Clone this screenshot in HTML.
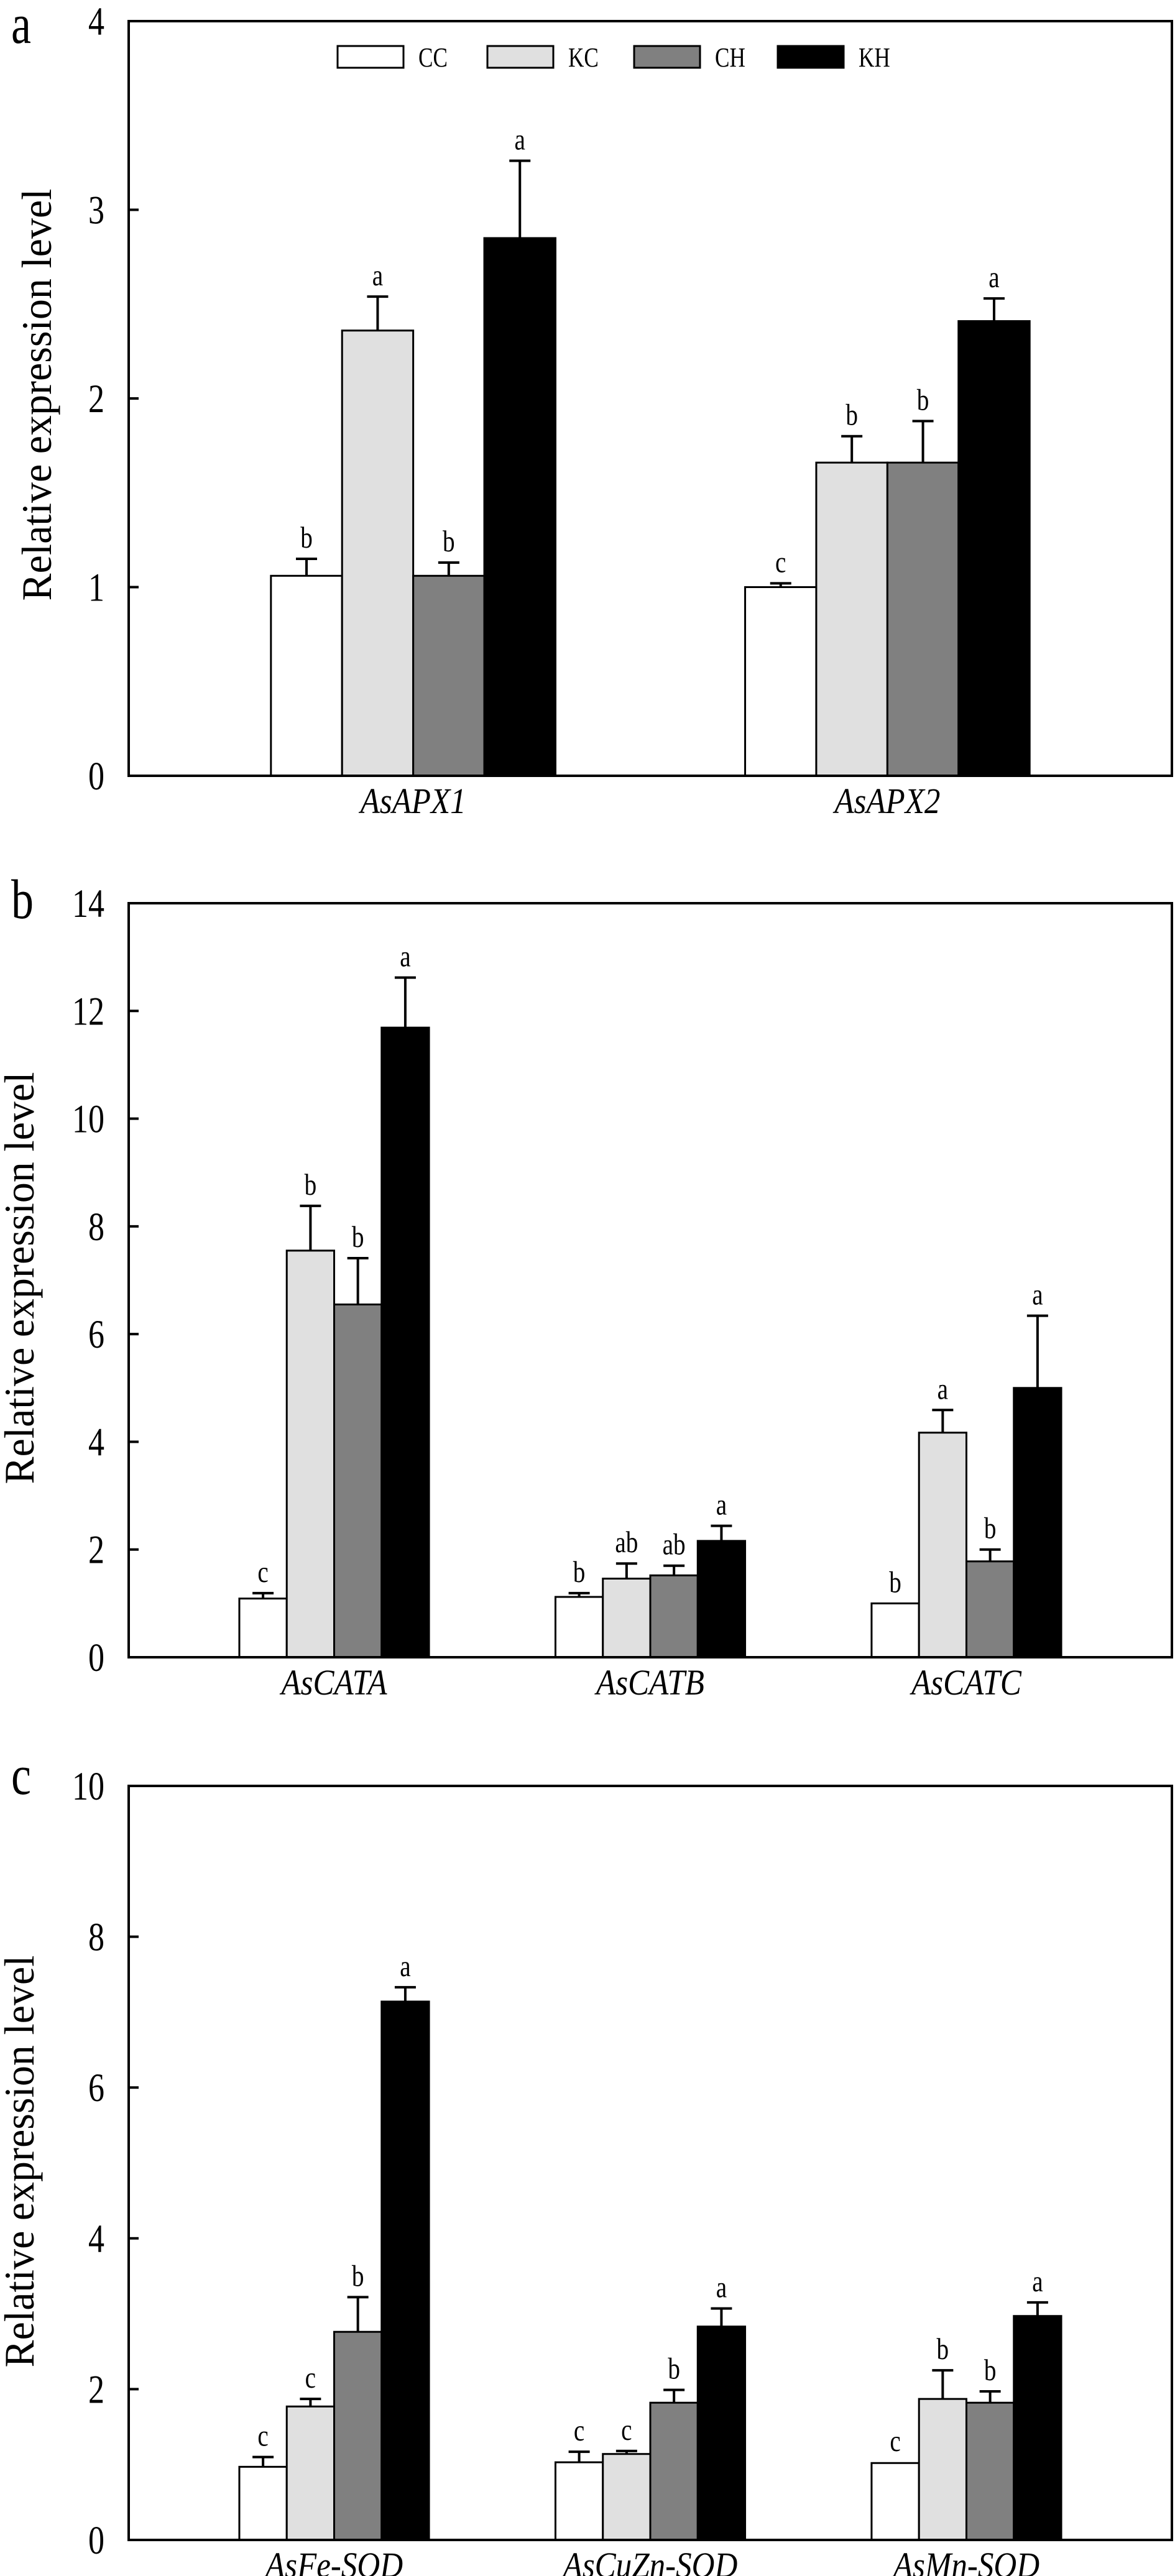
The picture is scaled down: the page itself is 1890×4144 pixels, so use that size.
<!DOCTYPE html>
<html><head><meta charset="utf-8"><style>
html,body{margin:0;padding:0;background:#fff;}
svg{display:block;}
svg text{font-family:"Liberation Serif","Times New Roman","DejaVu Serif",serif;fill:#000;}
</style></head>
<body>
<svg id="fig" width="1890" height="4144" viewBox="0 0 1890 4144" xmlns="http://www.w3.org/2000/svg"></svg>
<script>
// Panel a data
const catsA = ["AsAPX1","AsAPX2"];
const ccA = [1.06, 1.00];
const kcA = [2.36, 1.66];
const chA = [1.06, 1.66];
const khA = [2.85, 2.41];
const ccErrA = [0.09, 0.02];
const kcErrA = [0.18, 0.14];
const chErrA = [0.07, 0.22];
const khErrA = [0.41, 0.12];
const lettersA = [["b","a","b","a"],["c","b","b","a"]];
const ticksA = [0,1,2,3,4];
// Panel b data
const catsB = ["AsCATA","AsCATB","AsCATC"];
const ccB = [1.09, 1.12, 1.00];
const kcB = [7.55, 1.46, 4.17];
const chB = [6.55, 1.52, 1.78];
const khB = [11.69, 2.16, 5.00];
const ccErrB = [0.10, 0.07, 0.0];
const kcErrB = [0.83, 0.28, 0.42];
const chErrB = [0.86, 0.18, 0.22];
const khErrB = [0.93, 0.28, 1.34];
const lettersB = [["c","b","b","a"],["b","ab","ab","a"],["b","a","b","a"]];
const ticksB = [0,2,4,6,8,10,12,14];
// Panel c data
const catsC = ["AsFe-SOD","AsCuZn-SOD","AsMn-SOD"];
const ccC = [0.97, 1.03, 1.02];
const kcC = [1.77, 1.14, 1.87];
const chC = [2.76, 1.82, 1.82];
const khC = [7.14, 2.83, 2.97];
const ccErrC = [0.13, 0.14, 0.01];
const kcErrC = [0.10, 0.04, 0.38];
const chErrC = [0.46, 0.17, 0.15];
const khErrC = [0.19, 0.24, 0.18];
const lettersC = [["c","c","b","a"],["c","c","b","a"],["c","b","b","a"]];
const ticksC = [0,2,4,6,8,10];

const seriesNames = ["CC","KC","CH","KH"];
const fills = ["#ffffff","#e0e0e0","#808080","#000000"];
const FONT = "Liberation Serif, Times New Roman, DejaVu Serif, serif";

const NS = "http://www.w3.org/2000/svg";
const svg = document.getElementById("fig");
function mk(tag, attrs, parent){
  const e = document.createElementNS(NS, tag);
  for (const k in attrs) e.setAttribute(k, attrs[k]);
  (parent||svg).appendChild(e);
  return e;
}
function txt(parent, s, x, y, size, anchor, sx, italic){
  const t = mk("text", {transform:`translate(${x},${y}) scale(${sx},1)`, "font-size":size, "text-anchor":anchor, "font-family":FONT}, parent);
  if (italic) t.setAttribute("font-style","italic");
  t.textContent = s;
  return t;
}

function panel(cfg){
  const g = mk("g", {});
  
  
  const X0 = 207, X1 = 1885, W = X1 - X0;
  const n = cfg.cats.length;
  const a = 1 - (n === 2 ? 0.6 : 0.65), b = n + (n === 2 ? 0.6 : 0.65);
  const xs = v => X0 + (v - a) / (b - a) * W;
  const ys = v => cfg.y1 - v / cfg.max * (cfg.y1 - cfg.y0);
  const bw = 0.15;
  const vals = [cfg.cc, cfg.kc, cfg.ch, cfg.kh];
  const errs = [cfg.ccE, cfg.kcE, cfg.chE, cfg.khE];
  for (let c = 0; c < n; c++){
    for (let s = 0; s < 4; s++){
      const cx = c + 1 + (s - 1.5) * bw;
      const xl = xs(cx - bw/2), xr = xs(cx + bw/2);
      const v = vals[s][c], e = errs[s][c];
      const yt = ys(v), ye = ys(v + e);
      const r = mk("rect", {x:xl, y:yt, width:xr-xl, height:cfg.y1-yt, fill:fills[s], stroke:"#000", "stroke-width":3}, g);
      
      
      const xm = (xl + xr) / 2;
      if (e > 0.015){
        const eb = mk("path", {d:`M${xm},${yt} V${ye} M${xm-17},${ye} H${xm+17}`, stroke:"#000", "stroke-width":4, fill:"none"}, g);
        
        
      }
      const lt = txt(g, cfg.letters[c][s], xm, ye - 18, 49, "middle", 0.8, false);
      
      
    }
    const cl = txt(g, cfg.cats[c], xs(c + 1), cfg.y1 + 60, 58, "middle", 0.88, true);
    
    
  }
  const fr = mk("rect", {x:X0, y:cfg.y0, width:W, height:cfg.y1-cfg.y0, fill:"none", stroke:"#000", "stroke-width":4}, g);
  
  
  for (const t of cfg.ticks){
    const y = ys(t);
    const tk = mk("line", {x1:X0, x2:X0+16, y1:y, y2:y, stroke:"#000", "stroke-width":4}, g);
    
    
    const tl = txt(g, String(t), 168, y + 22, 65, "end", 0.8, false);
    
    
  }
  const yt = mk("text", {transform:`translate(${cfg.labX},${cfg.labY}) rotate(-90)`, "font-size":68, "text-anchor":"middle", "font-family":FONT, textLength:663, lengthAdjust:"spacingAndGlyphs"}, g);
  yt.textContent = "Relative expression level";
  
  
  const pl = txt(g, cfg.id, 18, cfg.letterY, 90, "start", 0.8, false);
  
  
}

panel({id:"a", cats:catsA, cc:ccA, kc:kcA, ch:chA, kh:khA, ccE:ccErrA, kcE:kcErrA, chE:chErrA, khE:khErrA, letters:lettersA, ticks:ticksA, max:4, y0:34, y1:1248, labX:82, labY:635, letterY:69});
panel({id:"b", cats:catsB, cc:ccB, kc:kcB, ch:chB, kh:khB, ccE:ccErrB, kcE:kcErrB, chE:chErrB, khE:khErrB, letters:lettersB, ticks:ticksB, max:14, y0:1453, y1:2666, labX:54, labY:2056, letterY:1477});
panel({id:"c", cats:catsC, cc:ccC, kc:kcC, ch:chC, kh:khC, ccE:ccErrC, kcE:kcErrC, chE:chErrC, khE:khErrC, letters:lettersC, ticks:ticksC, max:10, y0:2873, y1:4086, labX:54, labY:3477, letterY:2886});

const legX = [543, 784, 1020, 1251];
const lg = mk("g", {});


for (let s = 0; s < 4; s++){
  const r = mk("rect", {x:legX[s], y:74, width:106, height:35, fill:fills[s], stroke:"#000", "stroke-width":3}, lg);
  
  
  const t = txt(lg, seriesNames[s], legX[s] + 130, 107, 44, "start", 0.8, false);
  
  
}
</script>
</body></html>
